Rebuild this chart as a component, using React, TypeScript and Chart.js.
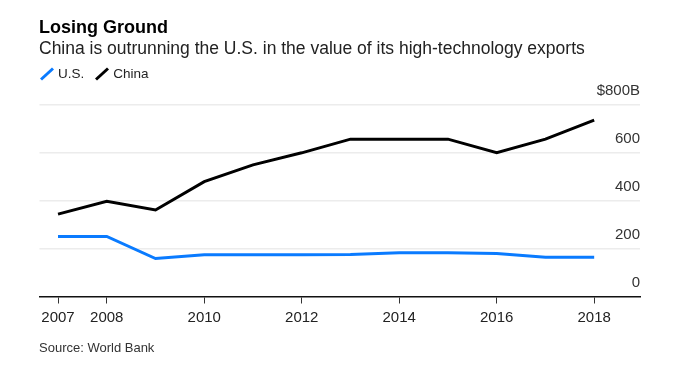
import React, { useEffect, useRef } from "react";
import Chart from "chart.js/auto";

const years = [2007, 2008, 2009, 2010, 2011, 2012, 2013, 2014, 2015, 2016, 2017, 2018];
const usValues = [250, 250, 158, 174, 174, 174, 175, 182, 182, 179, 163, 163];
const chinaValues = [343, 396, 360, 478, 548, 598, 655, 655, 655, 599, 655, 734];
const xTickYears = [2007, 2008, 2010, 2012, 2014, 2016, 2018];
const yTickValues = [0, 200, 400, 600, 800];

const US_COLOR = "#0a7bff";
const CHINA_COLOR = "#000000";
const FONT = "'Liberation Sans', Arial, Helvetica, sans-serif";

function Slash({ color }: { color: string }) {
  return (
    <svg width="16" height="14" style={{ display: "inline-block", verticalAlign: "top" }}>
      <line x1="2" y1="12.5" x2="14" y2="1.5" stroke={color} strokeWidth="3" />
    </svg>
  );
}

export default function App() {
  const canvasRef = useRef<HTMLCanvasElement | null>(null);

  useEffect(() => {
    const canvas = canvasRef.current;
    if (!canvas) return;
    const chart = new Chart(canvas, {
      type: "line",
      data: {
        datasets: [
          {
            label: "U.S.",
            data: years.map((y, i) => ({ x: y, y: usValues[i] })),
            borderColor: US_COLOR,
            borderWidth: 3,
            pointRadius: 0,
            tension: 0,
            fill: false,
          },
          {
            label: "China",
            data: years.map((y, i) => ({ x: y, y: chinaValues[i] })),
            borderColor: CHINA_COLOR,
            borderWidth: 3,
            pointRadius: 0,
            tension: 0,
            fill: false,
          },
        ],
      },
      options: {
        responsive: false,
        animation: false,
        devicePixelRatio: 1,
        layout: { padding: { left: 39.5, right: 39, top: 104.3, bottom: 29.5 } },
        plugins: { legend: { display: false }, tooltip: { enabled: false } },
        scales: {
          x: {
            type: "linear",
            min: 2006.62,
            max: 2018.94,
            afterBuildTicks: (scale: any) => {
              scale.ticks = xTickYears.map((v) => ({ value: v }));
            },
            afterFit: (scale: any) => {
              scale.height = 40;
            },
            ticks: {
              autoSkip: false,
              maxRotation: 0,
              padding: 5,
              color: "#222",
              font: { family: FONT, size: 15 },
              callback: (v: any) => String(v),
            },
            grid: {
              drawOnChartArea: false,
              drawTicks: true,
              tickLength: 7,
              tickColor: "#333",
            },
            border: { display: true, color: "#111", width: 1.5 },
          },
          y: {
            type: "linear",
            position: "right",
            min: 0,
            max: 800,
            afterBuildTicks: (scale: any) => {
              scale.ticks = yTickValues.map((v) => ({ value: v }));
            },
            afterFit: (scale: any) => {
              scale.width = 0;
            },
            ticks: {
              mirror: true,
              padding: 0,
              labelOffset: -13.3,
              color: "#333",
              font: { family: FONT, size: 15 },
              callback: (v: any) => (v === 800 ? "$800B" : String(v)),
            },
            grid: {
              drawTicks: false,
              color: (ctx: any) => (ctx.tick && ctx.tick.value === 0 ? "rgba(0,0,0,0)" : "#ececec"),
              lineWidth: 1.5,
            },
            border: { display: false },
          },
        },
      },
    });
    return () => chart.destroy();
  }, []);

  const textBase: React.CSSProperties = {
    position: "absolute",
    left: 39,
    margin: 0,
    lineHeight: 1,
    fontFamily: FONT,
    whiteSpace: "nowrap",
  };

  return (
    <div style={{ position: "absolute", left: 0, top: 0, width: 679, height: 366, background: "#fff", overflow: "hidden" }}>
      <canvas ref={canvasRef} width={679} height={366} style={{ position: "absolute", left: 0, top: 0, width: 679, height: 366 }} />
      <div style={{ ...textBase, top: 17.8, fontSize: 18, fontWeight: 700, color: "#000" }}>Losing Ground</div>
      <div style={{ ...textBase, top: 39.6, fontSize: 17.5, color: "#222" }}>
        China is outrunning the U.S. in the value of its high-technology exports
      </div>
      <div style={{ ...textBase, top: 66.5, fontSize: 13.5, color: "#222", display: "flex", alignItems: "flex-start" }}>
        <Slash color={US_COLOR} />
        <span style={{ marginLeft: 3 }}>U.S.</span>
        <span style={{ marginLeft: 10 }}>
          <Slash color={CHINA_COLOR} />
        </span>
        <span style={{ marginLeft: 3 }}>China</span>
      </div>
      <div style={{ ...textBase, top: 340.5, fontSize: 13, color: "#333" }}>Source: World Bank</div>
    </div>
  );
}
